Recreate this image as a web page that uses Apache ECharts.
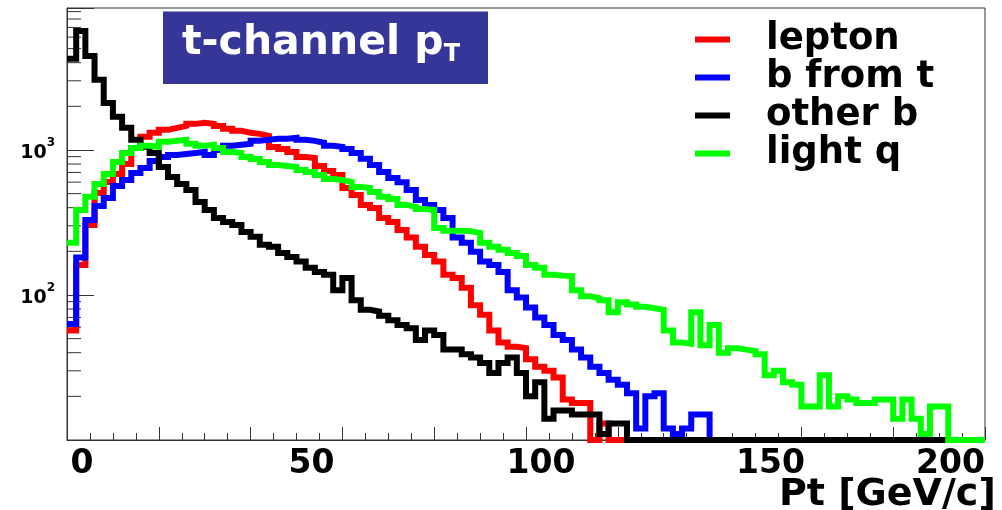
<!DOCTYPE html>
<html><head><meta charset="utf-8">
<script src="https://cdn.jsdelivr.net/npm/echarts@6/dist/echarts.min.js"></script>
<style>html,body{margin:0;padding:0;background:#fff}#c{width:1002px;height:510px}</style>
</head><body><div id="c"></div>
<script>
// Histogram bin width in GeV/c (100 bins from 0 to 200)
const binWidth = 2;

// Bin contents (0 = empty bin)
const lepton = [57,161,304,506,602,683,801,1032,1232,1313,1377,1421,1466,1514,1538,1514,1466,1399,1355,1313,
  1292,1252,1050,1016,969,895,881,776,716,672,547,490,418,398,340,319,281,249,215,189,
  170,138,131,112,85,73,57,47,44,43,36,32,30,27,19,18,18,0,13,0,
  0,0,0,0,0,0,0,0,0,0,0,0,0,0,0,0,0,0,0,0,
  0,0,0,0,0,0,0,0,0,0,0,0,0,0,0,0,0,0,0,0];
const bFromT = [63,181,329,411,467,565,621,694,751,840,895,924,939,953,969,924,1000,1068,1085,1103,
  1156,1175,1194,1194,1213,1175,1156,1121,1068,1051,1016,953,870,788,705,641,600,530,452,418,
  386,340,249,229,199,170,161,144,108,96,82,70,62,53,49,42,37,32,29,26,
  24,21,12,20,21,12,11,12,15,15,0,0,0,0,0,0,0,0,0,0,
  0,0,0,0,0,0,0,0,0,0,0,0,0,0,0,0,0,0,0,0];
const otherB = [4250,6620,4450,3044,2110,1692,1421,1175,1051,953,763,651,583,530,438,386,340,319,304,272,
  252,222,215,195,183,170,154,144,138,108,131,92,79,77,72,67,62,59,49,57,
  53,42,42,39,37,34,29,34,37,29,20,25,14,16,16,15,15,15,11,13,
  13,0,0,0,0,0,0,0,0,0,0,0,0,0,0,0,0,0,0,0,
  0,0,0,0,0,0,0,0,0,0,0,0,0,0,0,0,0,0,0,0];
const lightQ = [229,386,475,583,683,826,953,1032,1068,1051,1138,1156,1175,1103,1068,1085,1032,969,953,895,
  867,826,788,776,764,728,705,672,631,621,602,556,547,514,475,460,418,405,392,386,
  290,277,277,275,268,229,215,205,195,186,161,154,138,136,135,108,98,95,92,76,
  89,86,83,81,79,57,47,46,76,45,62,40,43,42,41,39,28,30,25,24,
  17,17,28,17,20,19,18,18,19,19,14,19,14,11,17,17,0,0,0,0];

const seriesNames = ['lepton', 'b from t', 'other b', 'light q'];
const xTickLabels = [0, 50, 100, 150, 200];
const yMinorTicks = [20,30,40,50,60,70,80,90,200,300,400,500,600,700,800,900,2000,3000,4000,5000,6000,7000,8000,9000];
const yMin = 10, yMax = 9530;

const F = 'DejaVu Sans';
const colors = ['#ff0000', '#0000ff', '#000000', '#00ff00'];
const values = [lepton, bFromT, otherB, lightQ];

// Empty bins are drawn on the frame bottom, as ROOT does on a log scale
function toSteps(vals) {
  const pts = vals.map((v, i) => [i * binWidth, v > 0 ? v : yMin]);
  pts.push([vals.length * binWidth, pts[pts.length - 1][1]]);
  return pts;
}

const chart = echarts.init(document.getElementById('c'), null, {renderer: 'canvas'});
const series = values.map((vals, k) => ({
  type: 'line', name: seriesNames[k], step: 'end', data: toSteps(vals),
  showSymbol: false, symbol: 'none', clip: false, silent: true,
  lineStyle: {color: colors[k], width: 6, join: 'miter', cap: 'butt'},
  itemStyle: {color: colors[k]}, emphasis: {disabled: true}, z: 3
}));
series.push({
  type: 'custom', name: 'yminor', silent: true, clip: false, z: 2,
  data: yMinorTicks.map(v => [0, v]), encode: {x: 0, y: 1},
  renderItem: (params, api) => {
    const p = api.coord([0, api.value(1)]);
    return {type: 'line', shape: {x1: p[0], y1: p[1], x2: p[0] + 14, y2: p[1]}, style: {stroke: '#333', lineWidth: 1}};
  }
});

chart.setOption({
  animation: false,
  backgroundColor: '#fff',
  title: {
    text: '{m|t-channel p}{s|T}',
    left: 163, top: 8,
    backgroundColor: '#363699',
    padding: [11, 28, 17, 19],
    textStyle: {
      rich: {
        m: {fontFamily: F, fontWeight: 'bold', fontSize: 41, color: '#fff', lineHeight: 48},
        s: {fontFamily: F, fontWeight: 'bold', fontSize: 24, color: '#fff', lineHeight: 24, verticalAlign: 'bottom'}
      }
    }
  },
  legend: {
    orient: 'vertical', left: 695, top: 21, padding: 0, itemWidth: 35, itemHeight: 6, itemGap: 1,
    icon: 'rect', selectedMode: false, data: seriesNames,
    textStyle: {fontFamily: F, fontWeight: 'bold', fontSize: 37, color: '#000', lineHeight: 34, padding: [0, 0, 0, 31]}
  },
  grid: {left: 67, top: 8, right: 17, bottom: 70, show: true, borderColor: '#333', borderWidth: 1,
    backgroundColor: 'transparent', outerBoundsMode: 'none', containLabel: false},
  xAxis: {
    type: 'value', min: 0, max: 200, interval: 20,
    axisLine: {show: true, onZero: false, lineStyle: {color: '#333', width: 1}},
    axisTick: {show: true, inside: true, length: 13, lineStyle: {color: '#333'}},
    minorTick: {show: true, splitNumber: 4, length: 7, lineStyle: {color: '#333'}},
    splitLine: {show: false}, minorSplitLine: {show: false},
    axisLabel: {customValues: xTickLabels, fontFamily: F, fontWeight: 'bold', fontSize: 33, color: '#000', margin: 8, padding: [0, 0, 0, 30], alignMaxLabel: 'right'},
    name: 'Pt [GeV/c]', nameLocation: 'end', nameGap: -206, nameMoveOverlap: false,
    nameTextStyle: {fontFamily: F, fontWeight: 'bold', fontSize: 38, color: '#000', align: 'left', verticalAlign: 'top', padding: [36, 0, 0, 0]}
  },
  yAxis: {
    type: 'log', logBase: 10, min: yMin, max: yMax,
    axisLine: {show: true, lineStyle: {color: '#333', width: 1}},
    axisTick: {show: true, inside: true, length: 27, lineStyle: {color: '#333'}},
    splitLine: {show: false},
    axisLabel: {
      margin: 12,
      formatter: v => {
        const e = Math.round(Math.log10(v));
        if (e < 2 || Math.abs(v - Math.pow(10, e)) > 1e-6 * v) return '';
        return '{b|10}{s|' + e + '}';
      },
      rich: {
        b: {fontFamily: F, fontWeight: 'bold', fontSize: 19, color: '#000', lineHeight: 26, verticalAlign: 'bottom'},
        s: {fontFamily: F, fontWeight: 'bold', fontSize: 12, color: '#000', lineHeight: 12, verticalAlign: 'top'}
      }
    }
  },
  series: series
});
</script></body></html>
